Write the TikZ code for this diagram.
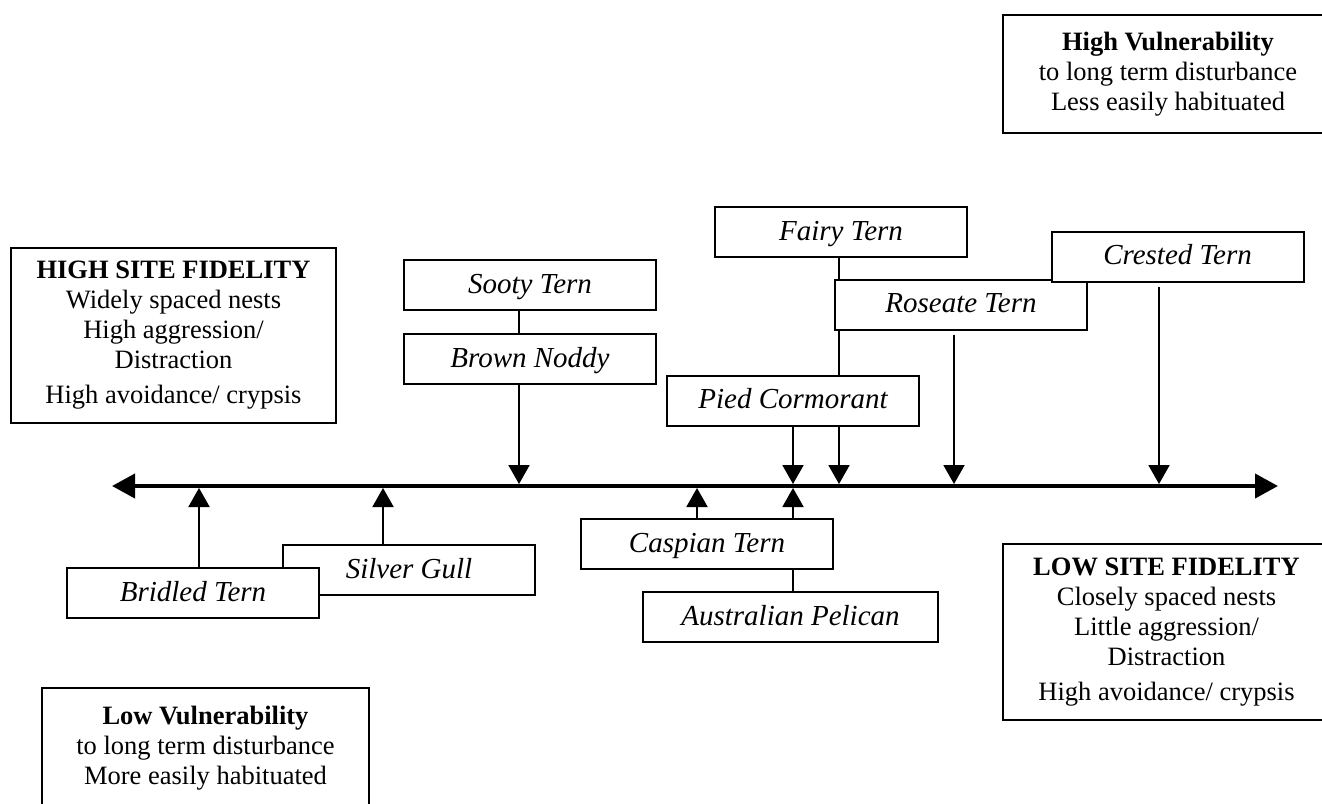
\documentclass[tikz,border=0pt]{standalone}
\usepackage{fontspec}
\setmainfont{Liberation Serif}
\usetikzlibrary{arrows.meta}
\tikzset{
  box/.style={draw, line width=1pt, fill=white, inner sep=0pt, align=center},
  species/.style={box, font=\fontsize{14.5}{17}\selectfont\itshape,
    minimum width=126pt, minimum height=25pt, text height=10.5pt, text depth=2.5pt},
  info/.style={box, font=\fontsize{13.25}{15}\selectfont},
  axisline/.style={line width=2pt, {Triangle[length=11.5pt,width=12pt]}-{Triangle[length=11.5pt,width=12pt]}},
  conn/.style={line width=1pt, -{Triangle[length=9.5pt,width=10.5pt]}, shorten >=1pt},
  link/.style={line width=1pt}
}
\begin{document}
\begin{tikzpicture}[x=0.5pt, y=-0.5pt]
\useasboundingbox (0,0) rectangle (1322,803);
\fill[white] (0,0) rectangle (1322,803);
\clip (0,0) rectangle (1322,803);

% info boxes
\node[info, minimum width=165pt, minimum height=59pt] (highv) at (1168,74)
  {\textbf{High Vulnerability}\\ to long term disturbance\\ Less easily habituated};
\node[info, minimum width=163.5pt, minimum height=60pt] (lowv) at (205.5,748)
  {\textbf{Low Vulnerability}\\ to long term disturbance\\ More easily habituated};
\node[info, minimum width=162.5pt, minimum height=87.5pt] (highsf) at (173.5,335.5)
  {\textbf{HIGH SITE FIDELITY}\\ Widely spaced nests\\ High aggression/\\ Distraction\\[2.5pt] High avoidance/ crypsis};
\node[info, minimum width=163.5pt, minimum height=88pt] (lowsf) at (1166.5,632)
  {\textbf{LOW SITE FIDELITY}\\ Closely spaced nests\\ Little aggression/\\ Distraction\\[2.5pt] High avoidance/ crypsis};

% species boxes
\node[species] (sooty) at (530,285) {Sooty Tern};
\node[species] (brown) at (530,359) {Brown Noddy};
\node[species] (fairy) at (841,232) {Fairy Tern};
\node[species] (roseate) at (961,304.5) {Roseate Tern};
\node[species] (crested) at (1177.5,256.5) {Crested Tern};
\node[species] (pied) at (793,400.5) {Pied Cormorant};
\node[species] (caspian) at (707,544) {Caspian Tern};
\node[species, minimum width=147.5pt] (pelican) at (790.5,617) {Australian Pelican};
\node[species] (silver) at (409,570) {Silver Gull};
\node[species] (bridled) at (193,593) {Bridled Tern};

% axis
\coordinate (axL) at (112,486);
\coordinate (axR) at (1278,486);
\draw[axisline] (axL) -- (axR);

\coordinate (tBr) at (199,486);
\coordinate (tSG) at (383,486);
\coordinate (tBN) at (519,486);
\coordinate (tCa) at (697,486);
\coordinate (tPC) at (793,486);
\coordinate (tF) at (839,486);
\coordinate (tR) at (954,486);
\coordinate (tCr) at (1159,486);

% connectors from above
\draw[link] (sooty.south -| tBN) -- (brown.north -| tBN);
\draw[conn] (brown.south -| tBN) -- (tBN);
\draw[link] (fairy.south -| tF) -- (roseate.north -| tF);
\draw[link] (roseate.south -| tF) -- (pied.north -| tF);
\draw[conn] (pied.south -| tF) -- (tF);
\draw[conn] (pied.south -| tPC) -- (tPC);
\draw[conn] ([yshift=-2pt]roseate.south -| tR) -- (tR);
\draw[conn] ([yshift=-2pt]crested.south -| tCr) -- (tCr);

% connectors from below
\draw[conn] (bridled.north -| tBr) -- (tBr);
\draw[conn] (silver.north -| tSG) -- (tSG);
\draw[conn] (caspian.north -| tCa) -- (tCa);
\draw[conn] (caspian.north -| tPC) -- (tPC);
\draw[link] (caspian.south -| tPC) -- (pelican.north -| tPC);
\end{tikzpicture}
\end{document}
